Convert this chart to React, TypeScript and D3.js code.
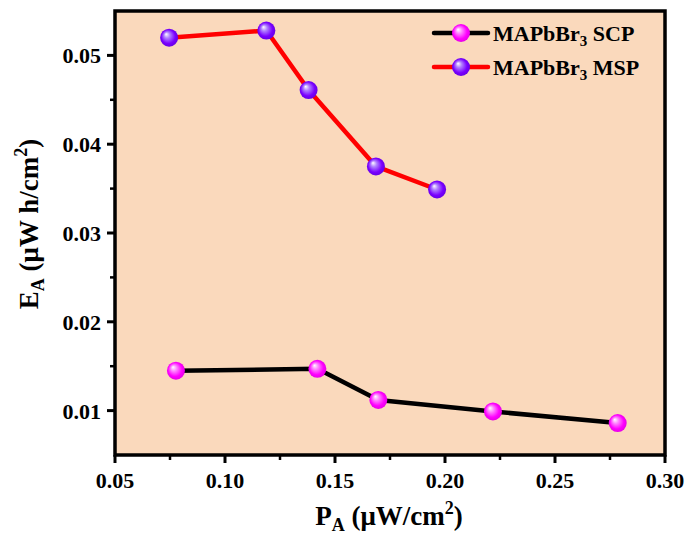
import React from "react";
import * as d3 from "d3";

const scpX = [0.0777, 0.142, 0.1697, 0.2218, 0.2785];
const scpY = [0.0145, 0.0147, 0.0112, 0.0099, 0.0086];
const mspX = [0.0746, 0.1188, 0.138, 0.1686, 0.1964];
const mspY = [0.0520, 0.0528, 0.0461, 0.0375, 0.0349];
const xTicks = [0.05, 0.1, 0.15, 0.2, 0.25, 0.3];
const yTicks = [0.01, 0.02, 0.03, 0.04, 0.05];
const xMinor = [0.075, 0.125, 0.175, 0.225, 0.275];
const yMinor = [0.015, 0.025, 0.035, 0.045];

const W = 689, H = 538;
const L = 115, R = 665, T = 11, B = 455;
const FONT = "Liberation Serif, Times New Roman, serif";

export default function App() {
  const x = d3.scaleLinear().domain([0.05, 0.3]).range([L, R]);
  const y = d3.scaleLinear().domain([0.005, 0.055]).range([B, T]);
  const line = d3.line<[number, number]>().x(d => x(d[0])).y(d => y(d[1]));
  const scp: [number, number][] = scpX.map((v, i) => [v, scpY[i]]);
  const msp: [number, number][] = mspX.map((v, i) => [v, mspY[i]]);
  const rM = 9;
  const series = [
    { name: "SCP", data: scp, line: "#000000", grad: "gS", ly: 33 },
    { name: "MSP", data: msp, line: "#ff0000", grad: "gM", ly: 67 },
  ];
  return (
    <svg width={W} height={H} style={{ position: "absolute", left: 0, top: 0, fontFamily: FONT }}>
      <defs>
        <radialGradient id="gS" cx="0.5" cy="0.5" r="0.55" fx="0.33" fy="0.3">
          <stop offset="0" stopColor="#ffffff" />
          <stop offset="0.3" stopColor="#ff88ff" />
          <stop offset="0.7" stopColor="#ff00ff" />
          <stop offset="1" stopColor="#e000e0" />
        </radialGradient>
        <radialGradient id="gM" cx="0.5" cy="0.5" r="0.55" fx="0.33" fy="0.3">
          <stop offset="0" stopColor="#ffffff" />
          <stop offset="0.3" stopColor="#b080ff" />
          <stop offset="0.7" stopColor="#7a00ff" />
          <stop offset="1" stopColor="#6000e0" />
        </radialGradient>
      </defs>
      <rect x={0} y={0} width={W} height={H} fill="#ffffff" />
      <rect x={L} y={T} width={R - L} height={B - T} fill="#fad9bc" />
      {series.map(s => (
        <g key={s.name}>
          <path d={line(s.data) || ""} fill="none" stroke={s.line} strokeWidth={4.5} strokeLinejoin="round" />
          {s.data.map((d, i) => (
            <circle key={i} cx={x(d[0])} cy={y(d[1])} r={rM} fill={`url(#${s.grad})`} />
          ))}
        </g>
      ))}
      {/* frame */}
      <rect x={L} y={T} width={R - L} height={B - T} fill="none" stroke="#000" strokeWidth={3.5} />
      {/* x ticks */}
      {xTicks.map(t => (
        <g key={t}>
          <line x1={x(t)} x2={x(t)} y1={B} y2={B + 8} stroke="#000" strokeWidth={3} />
          <text x={x(t)} y={B + 33} textAnchor="middle" fontSize={22} fontWeight="bold">{t.toFixed(2)}</text>
        </g>
      ))}
      {xMinor.map(t => (
        <line key={t} x1={x(t)} x2={x(t)} y1={B} y2={B + 5} stroke="#000" strokeWidth={2.5} />
      ))}
      {yTicks.map(t => (
        <g key={t}>
          <line x1={L - 8} x2={L} y1={y(t)} y2={y(t)} stroke="#000" strokeWidth={3} />
          <text x={L - 14} y={y(t) + 8} textAnchor="end" fontSize={22} fontWeight="bold">{t.toFixed(2)}</text>
        </g>
      ))}
      {yMinor.map(t => (
        <line key={t} x1={L - 5} x2={L} y1={y(t)} y2={y(t)} stroke="#000" strokeWidth={2.5} />
      ))}
      {/* axis titles */}
      <text x={389} y={525} textAnchor="middle" fontSize={27} fontWeight="bold">
        P<tspan fontSize={18} dy={6}>A</tspan>
        <tspan dy={-6}> (μW/cm</tspan>
        <tspan fontSize={18} dy={-11}>2</tspan>
        <tspan dy={11}>)</tspan>
      </text>
      <text transform={`translate(38, 224) rotate(-90)`} textAnchor="middle" fontSize={27} fontWeight="bold">
        E<tspan fontSize={18} dy={6}>A</tspan>
        <tspan dy={-6}> (μW h/cm</tspan>
        <tspan fontSize={18} dy={-11}>2</tspan>
        <tspan dy={11}>)</tspan>
      </text>
      {/* legend */}
      {series.map(s => (
        <g key={"lg" + s.name}>
          <line x1={434} x2={488} y1={s.ly} y2={s.ly} stroke={s.line} strokeWidth={4.5} strokeLinecap="round" />
          <circle cx={461} cy={s.ly} r={rM} fill={`url(#${s.grad})`} />
          <text x={493} y={s.ly + 8} fontSize={22} fontWeight="bold">
            MAPbBr<tspan fontSize={15} dy={5}>3</tspan>
            <tspan dy={-5}> {s.name}</tspan>
          </text>
        </g>
      ))}
    </svg>
  );
}
